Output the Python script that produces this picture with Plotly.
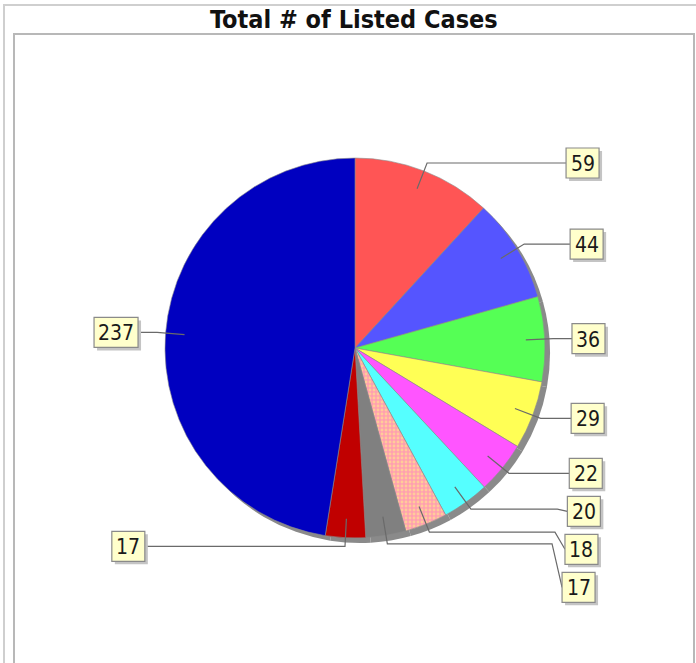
import math
import plotly.graph_objects as go

# ---------------- data ----------------
slice_categories = ['Category 1', 'Category 2', 'Category 3', 'Category 4', 'Category 5',
                    'Category 6', 'Category 7', 'Category 8', 'Category 9', 'Category 10']
slice_values = [59, 44, 36, 29, 22, 20, 18, 17, 17, 237]
slice_colors = ['#FF5555', '#5555FF', '#55FF55', '#FFFF55', '#FF55FF',
                '#55FFFF', '#FFA5AF', '#808080', '#C00000', '#0000C0']
slice_patterns = ['', '', '', '', '', '', '.', '', '', '']
chart_title = "Total # of Listed Cases"

# ---------------- layout geometry (pixels) ----------------
W, H = 696, 663
CX, CY, R = 355.0, 348.0, 190.0
SHADOW = 5
FONT = "DejaVu Sans Condensed"


def px(x):
    return x / W


def py(y):
    return 1 - y / H


fig = go.Figure()

# shadow pie
fig.add_trace(go.Pie(
    values=slice_values, labels=slice_categories, sort=False, direction='clockwise',
    rotation=0, textinfo='none', hoverinfo='skip', showlegend=False,
    marker=dict(colors=['#8A8A8A'] * len(slice_values), line=dict(width=0)),
    domain=dict(x=[px(CX - R + SHADOW), px(CX + R + SHADOW)],
                y=[py(CY + R + SHADOW), py(CY - R + SHADOW)]),
))

# main pie
fig.add_trace(go.Pie(
    values=slice_values, labels=slice_categories, sort=False, direction='clockwise',
    rotation=0, textinfo='none', showlegend=False,
    marker=dict(colors=slice_colors, line=dict(color='#8C8C8C', width=0.6),
                pattern=dict(shape=slice_patterns, fgcolor='#FFCC99',
                             bgcolor='#FFA0B0', size=4, solidity=0.4)),
    domain=dict(x=[px(CX - R), px(CX + R)], y=[py(CY + R), py(CY - R)]),
))

shapes = []
annotations = []

# frames
shapes.append(dict(type='rect', xref='paper', yref='paper', layer='below',
                   x0=px(4), x1=px(W + 10), y0=py(H + 10), y1=py(5),
                   line=dict(color='#CFCFCF', width=2)))
shapes.append(dict(type='rect', xref='paper', yref='paper', layer='below',
                   x0=px(14), x1=px(694), y0=py(H + 10), y1=py(34),
                   line=dict(color='#B8B8B8', width=2)))

# label placement
total = sum(slice_values)
items = []
cum = 0
for v in slice_values:
    mid = (cum + v / 2) / total * 2 * math.pi
    cum += v
    s, c = math.sin(mid), math.cos(mid)
    start = (CX + 0.90 * R * s, CY - 0.90 * R * c)
    elbow = (CX + 1.045 * R * s, CY - 1.045 * R * c)
    items.append(dict(lab=str(v), side=1 if s >= 0 else -1, start=start,
                      elbow=elbow, ly=elbow[1]))

GAP = 38
for side in (1, -1):
    grp = sorted([it for it in items if it['side'] == side], key=lambda d: d['elbow'][1])
    prev = -1e9
    for it in grp:
        it['ly'] = max(it['elbow'][1], prev + GAP)
        prev = it['ly']

BOX_H = 30
for it in items:
    dy = it['ly'] - CY
    off = 217 - 10 * (dy / 240) ** 2
    bw = 11 * len(it['lab']) + 11
    if it['side'] == 1:
        edge = CX + off
        x0, x1 = edge, edge + bw
        bend = edge - 10
    else:
        edge = CX - off
        x0, x1 = edge - bw, edge
        bend = edge + 10
    y0, y1 = it['ly'] - BOX_H / 2, it['ly'] + BOX_H / 2
    pts = [it['start'], it['elbow'], (bend, it['elbow'][1]), (edge, it['ly'])]
    path = 'M ' + ' L '.join(f'{px(x)},{py(y)}' for x, y in pts)
    shapes.append(dict(type='path', xref='paper', yref='paper', layer='above',
                       path=path, line=dict(color='#6A6A6A', width=1.2)))
    # box shadow
    shapes.append(dict(type='rect', xref='paper', yref='paper', layer='above',
                       x0=px(x0 + 3), x1=px(x1 + 3), y0=py(y1 + 3), y1=py(y0 + 3),
                       fillcolor='#C4C4C4', line=dict(width=0)))
    shapes.append(dict(type='rect', xref='paper', yref='paper', layer='above',
                       x0=px(x0), x1=px(x1), y0=py(y1), y1=py(y0),
                       fillcolor='#FFFFCC', line=dict(color='#8A8A8A', width=1.2)))
    annotations.append(dict(xref='paper', yref='paper', x=px((x0 + x1) / 2),
                            y=py(it['ly'] + 1), text=it['lab'], showarrow=False,
                            xanchor='center', yanchor='middle',
                            font=dict(family=FONT, size=21, color='#1A1A1A')))

annotations.append(dict(xref='paper', yref='paper', x=px(354), y=py(19),
                        text=chart_title, showarrow=False, xanchor='center',
                        yanchor='middle',
                        font=dict(family=FONT, size=25, color='#111111',
                                  weight='bold')))

fig.update_layout(
    width=W, height=H, margin=dict(l=0, r=0, t=0, b=0),
    paper_bgcolor='white', plot_bgcolor='white',
    shapes=shapes, annotations=annotations, showlegend=False,
)

fig.write_html("out.html", config={'displayModeBar': False},
               post_script="document.body.style.margin='0';")
